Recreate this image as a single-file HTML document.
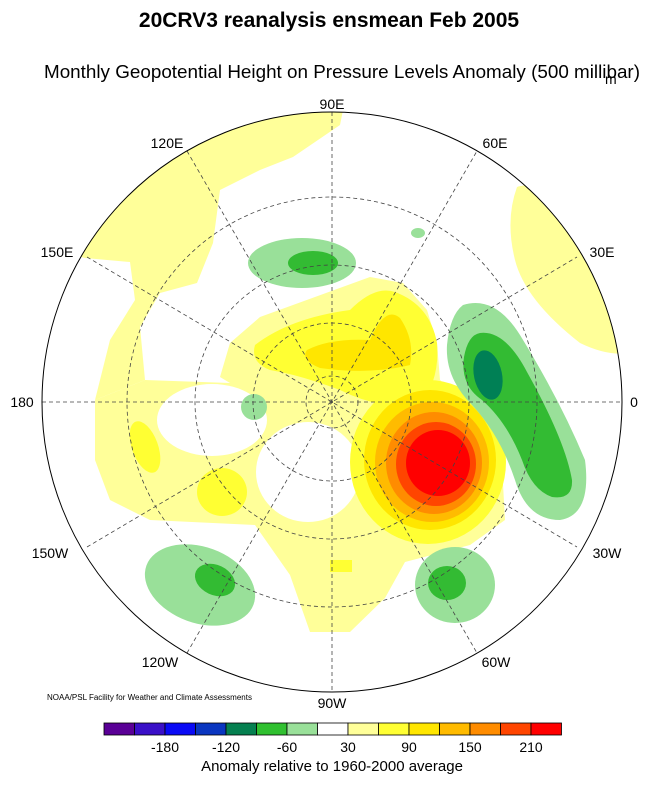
<!DOCTYPE html>
<html><head><meta charset="utf-8"><style>
body{margin:0;background:#fff;}
svg text{font-family:"Liberation Sans",sans-serif;}
</style></head><body>
<svg width="658" height="784" viewBox="0 0 658 784" xmlns="http://www.w3.org/2000/svg">
<text x="329" y="27" font-size="21" font-weight="bold" text-anchor="middle">20CRV3 reanalysis ensmean Feb 2005</text>
<text x="44" y="78" font-size="18" textLength="596" lengthAdjust="spacingAndGlyphs">Monthly Geopotential Height on Pressure Levels Anomaly (500 millibar)</text>
<text x="605" y="84" font-size="14">m</text>
<defs><clipPath id="c"><circle cx="332" cy="402" r="290"/></clipPath></defs>
<g clip-path="url(#c)">
<rect x="0" y="100" width="658" height="610" fill="#fff"/>
<g fill="#ffff99">
<path d="M20,100 L345,100 L340,125 L293,157 L260,170 L220,190 L213,243 L197,283 L160,293 L140,327 L145,380 L95,400 L110,340 L135,300 L130,262 L85,258 L20,240 Z"/>
<path d="M95,400 L145,380 L230,383 L220,377 L230,343 L260,317 L370,277 L403,283 L427,310 L437,343 L440,380 L500,430 L505,520 L470,545 L405,562 L385,598 L350,632 L310,632 L290,575 L255,525 L150,520 L110,500 L95,460 Z"/>
<path d="M517,187 Q540,180 570,200 L640,260 L640,350 Q615,360 580,343 Q525,300 515,260 Q505,220 517,187 Z"/>
</g>
<ellipse cx="212" cy="420" rx="55" ry="36" fill="#fff"/>
<ellipse cx="308" cy="472" rx="52" ry="50" fill="#fff"/>
<g fill="#ffff33">
<path d="M255,345 Q290,318 350,310 Q375,285 395,292 Q430,305 437,343 Q440,380 420,405 Q380,410 340,390 Q300,375 270,370 Q250,362 255,345 Z"/>
<ellipse cx="145" cy="447" rx="13" ry="27" transform="rotate(-20 145 447)"/>
<ellipse cx="222" cy="492" rx="25" ry="24"/>
<ellipse cx="428" cy="462" rx="78" ry="82"/>
<rect x="330" y="560" width="22" height="12"/>
</g>
<path d="M307,350 Q330,338 370,340 Q385,305 400,318 Q415,340 410,365 Q370,375 320,368 Q300,360 307,350 Z" fill="#ffe600"/>
<ellipse cx="430" cy="460" rx="66" ry="70" fill="#ffe600"/>
<ellipse cx="432" cy="462" rx="57" ry="60" fill="#ffbb00"/>
<ellipse cx="434" cy="463" rx="48" ry="51" fill="#ff8c00"/>
<ellipse cx="436" cy="464" rx="40" ry="42" fill="#ff4500"/>
<ellipse cx="438" cy="463" rx="32" ry="33" fill="#ff0000"/>
<g fill="#99e099">
<path d="M463,305 Q495,295 520,335 Q560,400 585,460 Q592,515 560,520 Q527,520 515,480 Q500,435 472,405 Q445,378 447,345 Q450,315 463,305 Z"/>
<ellipse cx="302" cy="263" rx="54" ry="25"/>
<ellipse cx="254" cy="407" rx="13" ry="13"/>
<ellipse cx="418" cy="233" rx="7" ry="5"/>
<ellipse cx="200" cy="585" rx="57" ry="38" transform="rotate(20 200 585)"/>
<ellipse cx="455" cy="585" rx="40" ry="38"/>
</g>
<g fill="#33bb33">
<path d="M480,333 Q505,330 527,372 Q565,440 572,480 Q573,500 552,497 Q532,490 522,460 Q507,422 482,400 Q460,385 464,357 Q468,335 480,333 Z"/>
<ellipse cx="313" cy="263" rx="25" ry="12"/>
<ellipse cx="215" cy="580" rx="21" ry="15" transform="rotate(25 215 580)"/>
<ellipse cx="447" cy="583" rx="19" ry="17"/>
</g>
<ellipse cx="488" cy="375" rx="14" ry="25" fill="#008055" transform="rotate(-12 488 375)"/>
<g fill="none" stroke="#444" stroke-width="0.8" stroke-dasharray="4,3">
<circle cx="332" cy="402" r="205"/><circle cx="332" cy="402" r="137"/><circle cx="332" cy="402" r="79"/><circle cx="332" cy="402" r="26"/>
<line x1="42" y1="402" x2="622" y2="402"/><line x1="332" y1="112" x2="332" y2="692"/>
<line x1="87" y1="257" x2="577" y2="547"/><line x1="87" y1="547" x2="577" y2="257"/>
<line x1="187" y1="151" x2="477" y2="653"/><line x1="187" y1="653" x2="477" y2="151"/>
</g>
</g>
<circle cx="332" cy="402" r="290" fill="none" stroke="#000" stroke-width="1"/>
<g font-size="14" text-anchor="middle">
<text x="332" y="109">90E</text><text x="495" y="148">60E</text><text x="602" y="257">30E</text>
<text x="634" y="407">0</text><text x="22" y="407">180</text><text x="57" y="257">150E</text>
<text x="167" y="148">120E</text><text x="50" y="558">150W</text><text x="160" y="667">120W</text>
<text x="332" y="708">90W</text><text x="496" y="667">60W</text><text x="607" y="558">30W</text>
</g>
<text x="47" y="700" font-size="8">NOAA/PSL Facility for Weather and Climate Assessments</text>
<g stroke="#000" stroke-width="0.8">
<rect x="104" y="723" width="30.5" height="12" fill="#5a0096"/>
<rect x="134.5" y="723" width="30.5" height="12" fill="#3a10c8"/>
<rect x="165" y="723" width="30.5" height="12" fill="#0a0af5"/>
<rect x="195.5" y="723" width="30.5" height="12" fill="#0a36c0"/>
<rect x="226" y="723" width="30.5" height="12" fill="#058050"/>
<rect x="256.5" y="723" width="30.5" height="12" fill="#30c030"/>
<rect x="287" y="723" width="30.5" height="12" fill="#99e099"/>
<rect x="317.5" y="723" width="30.5" height="12" fill="#ffffff"/>
<rect x="348" y="723" width="30.5" height="12" fill="#ffff99"/>
<rect x="378.5" y="723" width="30.5" height="12" fill="#ffff33"/>
<rect x="409" y="723" width="30.5" height="12" fill="#ffe600"/>
<rect x="439.5" y="723" width="30.5" height="12" fill="#ffbb00"/>
<rect x="470" y="723" width="30.5" height="12" fill="#ff8c00"/>
<rect x="500.5" y="723" width="30.5" height="12" fill="#ff4500"/>
<rect x="531" y="723" width="30.5" height="12" fill="#ff0000"/>
</g>
<g font-size="14" text-anchor="middle">
<text x="165" y="752">-180</text><text x="226" y="752">-120</text><text x="287" y="752">-60</text>
<text x="348" y="752">30</text><text x="409" y="752">90</text><text x="470" y="752">150</text><text x="531" y="752">210</text>
</g>
<text x="332" y="771" font-size="15" text-anchor="middle">Anomaly relative to 1960-2000 average</text>
</svg>
</body></html>
